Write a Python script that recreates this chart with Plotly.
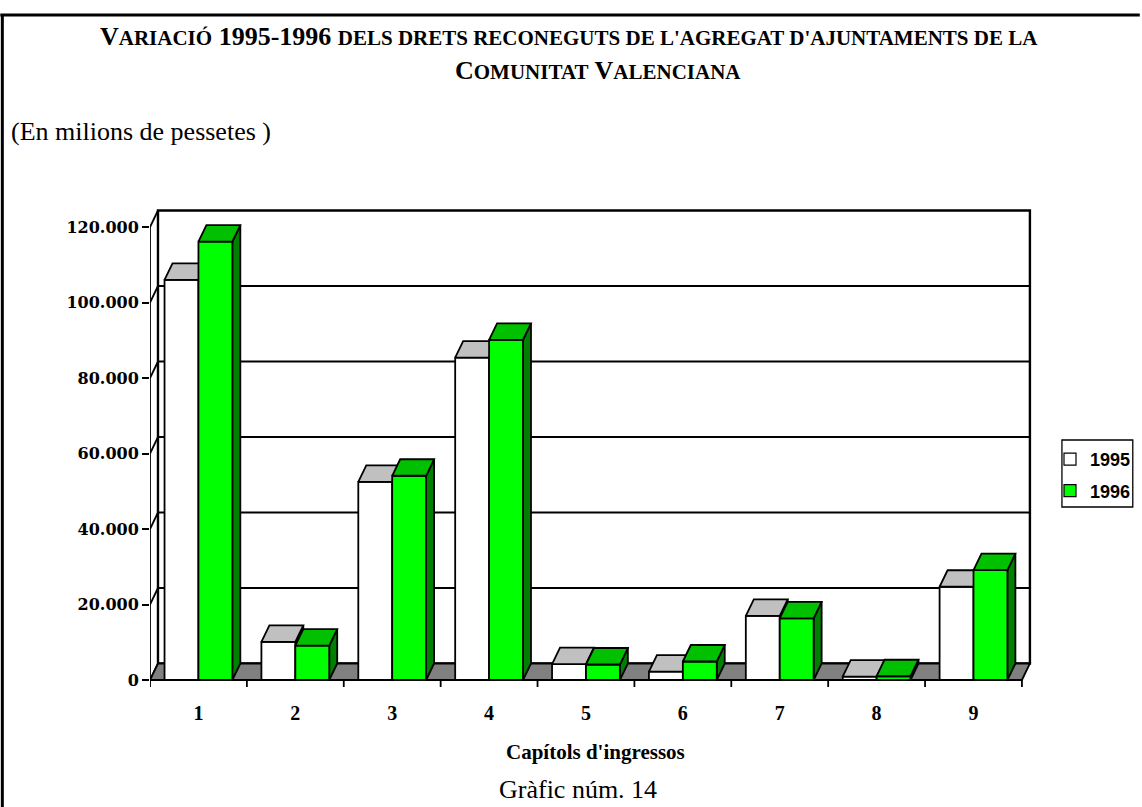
import plotly.graph_objects as go

# ---------------- data ----------------
categories = ["1", "2", "3", "4", "5", "6", "7", "8", "9"]
series_names = ["1995", "1996"]
values_1995 = [106000, 10100, 52500, 85400, 4200, 2200, 17000, 900, 24700]
values_1996 = [116100, 9100, 54100, 90100, 4100, 4900, 16300, 1000, 29100]
y_tickvals = [0, 20000, 40000, 60000, 80000, 100000, 120000]
y_ticktext = ["0", "20.000", "40.000", "60.000", "80.000", "100.000", "120.000"]
y_max = 120000

SC = "<span style='font-size:21px'>"
title_line1 = ("V" + SC + "ARIACIÓ</span> 1995-1996 " + SC +
               "DELS DRETS RECONEGUTS DE L'AGREGAT D'AJUNTAMENTS DE LA</span>")
title_line2 = "C" + SC + "OMUNITAT</span> V" + SC + "ALENCIANA</span>"
subtitle = "(En milions de pessetes )"
x_title = "Capítols d'ingressos"
footer = "Gràfic núm. 14"

# ---------------- geometry / style ----------------
W, H = 1142, 807
ML, MR, MT, MB = 150, 102, 200, 116
PW, PH = W - ML - MR, H - MT - MB
PX_PER_CAT = 97.1
PX_PER_UNIT = 3.775 / 1000.0          # pixels per value unit
ZERO_PX_FROM_BOTTOM = 11
x_range = [0, PW / PX_PER_CAT]
y_lo = -ZERO_PX_FROM_BOTTOM / PX_PER_UNIT
y_range = [y_lo, y_lo + PH / PX_PER_UNIT]
DX = 8 / PX_PER_CAT                   # depth offset (x, data units)
DY = 16.5 / PX_PER_UNIT               # depth offset (y, data units)
BAR_W = 0.35
TICK_LEN = 7 / PX_PER_UNIT
n = len(categories)

front_cols = {"1995": "#FFFFFF", "1996": "#00FF00"}
top_cols = {"1995": "#C0C0C0", "1996": "#00C000"}
side_cols = {"1995": "#808080", "1996": "#008000"}
LW = 1.8

fig = go.Figure()


def poly_trace(polys, fill, lw=LW):
    xs, ys = [], []
    for p in polys:
        for (a, b) in p:
            xs.append(a)
            ys.append(b)
        xs.append(p[0][0])
        ys.append(p[0][1])
        xs.append(None)
        ys.append(None)
    fig.add_trace(go.Scatter(x=xs, y=ys, mode="lines", fill="toself",
                             fillcolor=fill, line=dict(color="black", width=lw),
                             hoverinfo="skip", showlegend=False))


def line_trace(segs, lw=LW, color="black"):
    xs, ys = [], []
    for s in segs:
        for (a, b) in s:
            xs.append(a)
            ys.append(b)
        xs.append(None)
        ys.append(None)
    fig.add_trace(go.Scatter(x=xs, y=ys, mode="lines",
                             line=dict(color=color, width=lw),
                             hoverinfo="skip", showlegend=False))


# back wall
poly_trace([[(DX, DY), (n + DX, DY), (n + DX, y_max + DY), (DX, y_max + DY)]],
           "#FFFFFF", lw=2.4)
# gridlines on back wall
line_trace([[(DX, v + DY), (n + DX, v + DY)] for v in y_tickvals[1:-1]])
# left side wall: front axis and diagonals
line_trace([[(0, 0), (0, y_max)]] +
           [[(0, v), (DX, v + DY)] for v in y_tickvals])
# floor
poly_trace([[(0, 0), (n, 0), (n + DX, DY), (DX, DY)]], "#808080")
# category boundary ticks
line_trace([[(i, 0), (i, -TICK_LEN)] for i in range(n + 1)])

# bars, drawn series by series (left to right)
for si, (name, vals) in enumerate(zip(series_names, [values_1995, values_1996])):
    fronts, tops, sides = [], [], []
    for i, v in enumerate(vals):
        c = i + 0.5
        x0 = c - BAR_W + si * BAR_W
        x1 = x0 + BAR_W
        fronts.append([(x0, 0), (x1, 0), (x1, v), (x0, v)])
        tops.append([(x0, v), (x1, v), (x1 + DX, v + DY), (x0 + DX, v + DY)])
        sides.append([(x1, 0), (x1 + DX, DY), (x1 + DX, v + DY), (x1, v)])
    poly_trace(sides, side_cols[name])
    poly_trace(fronts, front_cols[name])
    poly_trace(tops, top_cols[name])

# legend entries
for name in series_names:
    fig.add_trace(go.Scatter(x=[None], y=[None], mode="markers", name=name,
                             legendgroup=name,
                             marker=dict(symbol="square", size=12,
                                         color=front_cols[name],
                                         line=dict(color="black", width=1.2))))


def px_x(px):
    return (px - ML) / PW


def px_y(py):
    return (H - MB - py) / PH


def ann(text, x, y, size, bold, anchor="center"):
    return dict(text=("<b>" + text + "</b>") if bold else text,
                x=px_x(x), y=px_y(y), xref="paper", yref="paper",
                showarrow=False, xanchor=anchor, yanchor="middle",
                font=dict(family="Liberation Serif", size=size, color="black"))


annotations = [
    ann(title_line1, 570, 37, 26, True),
    ann(title_line2, 599, 71, 26, True),
    ann(subtitle, 9, 131, 26, False, "left"),
    ann(x_title, 597, 752, 21, True),
    ann(footer, 579, 789, 26, False),
]

shapes = [
    dict(type="line", xref="paper", yref="paper", x0=px_x(0), x1=px_x(W),
         y0=px_y(15), y1=px_y(15), line=dict(color="black", width=3)),
    dict(type="line", xref="paper", yref="paper", x0=px_x(2), x1=px_x(2),
         y0=px_y(14), y1=px_y(H + 5), line=dict(color="black", width=3)),
    # legend frame
    dict(type="rect", xref="paper", yref="paper", x0=px_x(1064), x1=px_x(1135),
         y0=px_y(507), y1=px_y(440), line=dict(color="black", width=1.3)),
]

fig.update_layout(
    width=W, height=H,
    margin=dict(l=ML, r=MR, t=MT, b=MB, pad=0),
    plot_bgcolor="white", paper_bgcolor="white",
    showlegend=True,
    legend=dict(xref="container", yref="container", x=1050 / W, y=1 - 441 / H,
                xanchor="left", yanchor="top", bgcolor="rgba(0,0,0,0)",
                borderwidth=0,
                font=dict(family="Liberation Sans", size=18, color="black",
                          weight="bold"),
                tracegroupgap=5, itemwidth=30),
    xaxis=dict(range=x_range, showgrid=False, zeroline=False, showline=False,
               tickvals=[i + 0.5 for i in range(n)], ticktext=categories,
               ticks="", ticklabelstandoff=8,
               tickfont=dict(family="Liberation Serif", size=20, color="black",
                             weight="bold")),
    yaxis=dict(range=y_range, showgrid=False, zeroline=False, showline=False,
               tickvals=y_tickvals, ticktext=y_ticktext, ticks="outside",
               ticklen=7, tickwidth=1.8, tickcolor="black",
               tickfont=dict(family="DejaVu Serif", size=16, color="black",
                             weight="bold")),
    annotations=annotations,
    shapes=shapes,
)

fig.write_html("out.html",
               config={"displayModeBar": False},
               post_script="document.body.style.margin='0px';"
                           "document.body.style.overflow='hidden';")
